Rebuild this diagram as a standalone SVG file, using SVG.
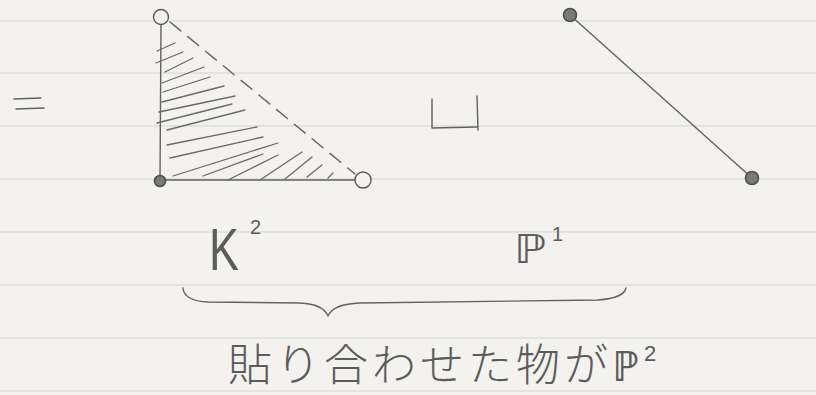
<svg xmlns="http://www.w3.org/2000/svg" width="816" height="395" viewBox="0 0 816 395">
<style>
.rule{stroke:#d3d3cf;stroke-width:1.2}
.pen{stroke:#626260;stroke-width:1.4;fill:none;stroke-linecap:round;stroke-linejoin:round}
.hatch{stroke:#6a6a67;stroke-width:1.3;fill:none;stroke-linecap:round}
.open{fill:#f3f2ee;stroke:#5a5a58;stroke-width:1.4}
.dot{fill:#7a7a76;stroke:#4e4e4c;stroke-width:1.6}
.hw{font-family:"Liberation Sans","DejaVu Sans","Noto Sans CJK JP",sans-serif;fill:#5c5c5a}
.jp{font-family:"Noto Sans CJK JP","DejaVu Sans",sans-serif;fill:#5c5c5a;font-weight:300}
</style>
<rect width="816" height="395" fill="#f3f2ee"/>
<g id="ruled-lines">
<line class="rule" x1="0" y1="21" x2="816" y2="21"/>
<line class="rule" x1="0" y1="73" x2="816" y2="73"/>
<line class="rule" x1="0" y1="126" x2="816" y2="126"/>
<line class="rule" x1="0" y1="179" x2="816" y2="179"/>
<line class="rule" x1="0" y1="232" x2="816" y2="232"/>
<line class="rule" x1="0" y1="285" x2="816" y2="285"/>
<line class="rule" x1="0" y1="338" x2="816" y2="338"/>
<line class="rule" x1="0" y1="391" x2="816" y2="391"/>
</g>
<g id="equals">
<path class="pen" d="M14,99 L41,98"/>
<path class="pen" d="M16,109 L44,108"/>
</g>
<g id="K2-simplex">
<path class="pen" d="M161,24 L160,180"/>
<path class="pen" d="M160,180 L355,180"/>
<path class="pen" d="M170,22 L355,174" stroke-dasharray="14,9"/>
<g id="hatching">
<path class="hatch" d="M157,51 L175,43"/>
<path class="hatch" d="M156,63 L183,52"/>
<path class="hatch" d="M165,72 L193,58"/>
<path class="hatch" d="M162,83 L204,67"/>
<path class="hatch" d="M163,92 L210,77"/>
<path class="hatch" d="M162,102 L224,86"/>
<path class="hatch" d="M159,112 L235,96"/>
<path class="hatch" d="M157,123 L232,104"/>
<path class="hatch" d="M167,130 L245,110"/>
<path class="hatch" d="M167,145 L257,127"/>
<path class="hatch" d="M170,158 L263,137"/>
<path class="hatch" d="M173,176 L278,143"/>
<path class="hatch" d="M203,176 L263,154"/>
<path class="hatch" d="M228,180 L278,155"/>
<path class="hatch" d="M260,180 L302,152"/>
<path class="hatch" d="M285,179 L312,157"/>
<path class="hatch" d="M307,177 L322,165"/>
<path class="hatch" d="M328,178 L333,173"/>
</g>
<circle class="open" cx="161" cy="17" r="7.5"/>
<circle class="dot" cx="160" cy="181" r="5.5"/>
<circle class="open" cx="363" cy="180" r="8"/>
</g>
<g id="disjoint-union">
<path class="pen" d="M432,99 L432,128 L477,127 M477,96 L478,130"/>
</g>
<g id="P1-segment">
<path class="pen" d="M570,15 L752,178" stroke-width="1.2"/>
<circle class="dot" cx="570" cy="15" r="6.5"/>
<circle class="dot" cx="752" cy="178" r="6.5"/>
</g>
<g id="label-K2">
<text class="hw" x="209" y="270" font-size="60" textLength="30" lengthAdjust="spacingAndGlyphs">K</text>
<text class="hw" x="250" y="234" font-size="20">2</text>
</g>
<g id="label-P1">
<text class="hw" x="514" y="263" font-size="40" textLength="32" lengthAdjust="spacingAndGlyphs">ℙ</text>
<text class="hw" x="552" y="241" font-size="20">1</text>
</g>
<g id="brace">
<path class="pen" d="M183,288 Q184,301 208,302 L300,303 Q323,304 328,316 Q333,304 360,303 L598,300 Q624,298 626,288"/>
</g>
<g id="caption">
<text class="jp" x="228" y="381" font-size="44" letter-spacing="4">貼り合わせた物が<tspan class="hw" font-size="42">ℙ</tspan><tspan class="hw" font-size="22" dy="-20">2</tspan></text>
</g>
</svg>
